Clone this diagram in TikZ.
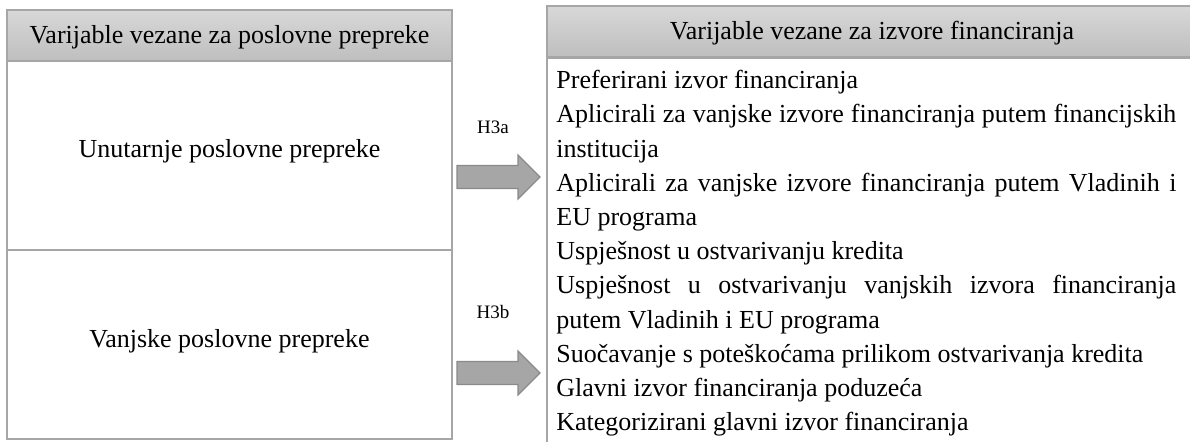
\documentclass[tikz,border=0pt]{standalone}
\usepackage{fontspec}
\setmainfont{Liberation Serif}
\definecolor{frame}{HTML}{A6A6A6}
\definecolor{hdrtop}{HTML}{D8D8D8}
\definecolor{hdrbot}{HTML}{BEBEBE}
\definecolor{arrfill}{HTML}{A6A6A6}
\definecolor{arrline}{HTML}{8A8A8A}
\tikzset{
  cell/.style={draw=frame, line width=1.2pt, fill=white, inner sep=0pt, font=\fontsize{13}{16}\selectfont},
  hdr/.style={cell, top color=hdrtop, bottom color=hdrbot, text height=9pt, text depth=1pt},
  hlabel/.style={font=\fontsize{9.5}{11}\selectfont, inner sep=0pt},
  blockarrow/.style={fill=arrfill, draw=arrline, line width=0.6pt, line join=miter}
}
\begin{document}
\begin{tikzpicture}[x=0.5pt,y=-0.5pt]
\useasboundingbox (0,0) rectangle (1190,441);
\begin{scope}
\clip (0,0) rectangle (1190,441);
% left column
\node[hdr, minimum width=222.5pt, minimum height=25.5pt] (lhead) at (229.5,35.5) {Varijable vezane za poslovne prepreke};
\node[cell, minimum width=222.5pt, minimum height=94.5pt] (lcellA) at (229.5,155.5) {};
\node[cell, minimum width=222.5pt, minimum height=94.5pt] (lcellB) at (229.5,344.5) {};
\node[font=\fontsize{13}{16}\selectfont, inner sep=0pt] (ltxtA) at (229.5,151) {Unutarnje poslovne prepreke};
\node[font=\fontsize{13}{16}\selectfont, inner sep=0pt] (ltxtB) at (229.5,341) {Vanjske poslovne prepreke};
% right column
\node[cell, minimum width=325pt, minimum height=212pt] (rbody) at (872,270) {};
\node[hdr, minimum width=325pt, minimum height=25.5pt] (rhead) at (872,31.5) {Varijable vezane za izvore financiranja};
\end{scope}
\node[anchor=north west, inner sep=0pt, align=left, font=\fontsize{13}{17.1}\selectfont] (rtxt) at (556,70) {%
Preferirani izvor financiranja\\
\makebox[310pt][s]{Aplicirali za vanjske izvore financiranja putem financijskih}\\
institucija\\
\makebox[310pt][s]{Aplicirali za vanjske izvore financiranja putem Vladinih i}\\
EU programa\\
Uspješnost u ostvarivanju kredita\\
\makebox[310pt][s]{Uspješnost u ostvarivanju vanjskih izvora financiranja}\\
putem Vladinih i EU programa\\
Suočavanje s poteškoćama prilikom ostvarivanja kredita\\
Glavni izvor financiranja poduzeća\\
Kategorizirani glavni izvor financiranja};
% hypotheses
\node[hlabel] (h3a) at (493,127) {H3a};
\node[hlabel] (h3b) at (493,312) {H3b};
\coordinate (a1) at (457,177);
\coordinate (a2) at (457,373);
\draw[blockarrow, shift={(a1)}] (0,-11.5) -- (61,-11.5) -- (61,-22) -- (83,0) -- (61,22) -- (61,11.5) -- (0,11.5) -- cycle;
\draw[blockarrow, shift={(a2)}] (0,-11.5) -- (61,-11.5) -- (61,-22) -- (83,0) -- (61,22) -- (61,11.5) -- (0,11.5) -- cycle;
\end{tikzpicture}
\end{document}
